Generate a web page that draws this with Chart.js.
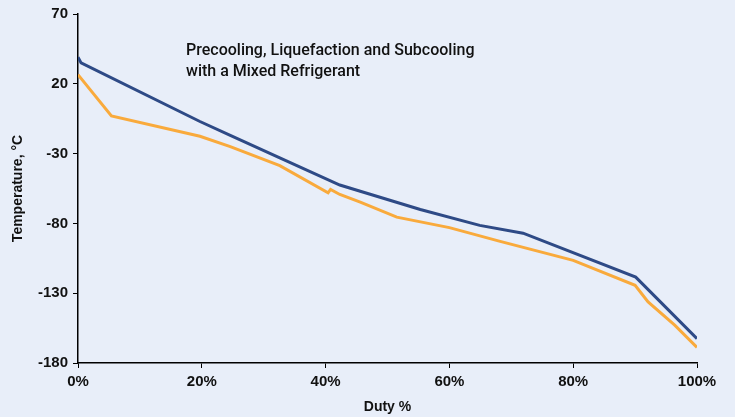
<!DOCTYPE html>
<html>
<head>
<meta charset="utf-8">
<script src="https://cdn.jsdelivr.net/npm/chart.js@4/dist/chart.umd.min.js"></script>
<style>
  html, body { margin: 0; padding: 0; background: #e8eef9; }
  #wrap { width: 735px; height: 417px; }
</style>
</head>
<body>
<div id="wrap"><canvas id="c" width="735" height="417"></canvas></div>
<script>
// Duty (%) and temperature (°C)
const hotDuty  = [0, 0.5, 19.7, 24.6, 32.6, 42.3, 45.6, 55.3, 64.9, 71.9, 90.1, 100];
const hotTemp  = [39, 35, -7, -17, -33, -52.5, -57, -70, -81.4, -87, -118.5, -162.5];
const coldDuty = [0, 5.4, 19.7, 24.6, 32.6, 40.4, 40.8, 42.3, 45.6, 51.5, 60, 68.2, 80, 90, 92.1, 96.4, 100];
const coldTemp = [26.5, -3, -17.6, -25, -38.6, -58.1, -55.7, -59.3, -64.8, -75.5, -83, -92.9, -106.5, -124.3, -136.2, -152.9, -168.8];
const yTicks = [70, 20, -30, -80, -130, -180];
const xTicks = [0, 20, 40, 60, 80, 100];
const chartTitle = ['Precooling, Liquefaction and Subcooling', 'with a Mixed Refrigerant'];
const xTitle = 'Duty %';
const yTitle = 'Temperature, \u00B0C';

const toPts = (xs, ys) => xs.map((x, i) => ({x: x, y: ys[i]}));

const FONT = "'Liberation Sans', Arial, sans-serif";
const TFONT = "Roboto, 'Liberation Sans', Arial, sans-serif";

const titlePlugin = {
  id: 'innerTitle',
  afterDraw(chart) {
    const {ctx, chartArea} = chart;
    ctx.save();
    ctx.fillStyle = '#111';
    ctx.font = '500 16px ' + TFONT;
    ctx.textBaseline = 'alphabetic';
    ctx.textAlign = 'left';
    chartTitle.forEach((t, i) => {
      ctx.fillText(t, chartArea.left + 108, chartArea.top + 41 + i * 21);
    });
    ctx.restore();
  }
};

new Chart(document.getElementById('c'), {
  type: 'line',
  data: {
    datasets: [
      { data: toPts(hotDuty, hotTemp), borderColor: '#2e4a86', borderWidth: 3, pointRadius: 0, tension: 0, fill: false },
      { data: toPts(coldDuty, coldTemp), borderColor: '#f9aa3c', borderWidth: 3, pointRadius: 0, tension: 0, fill: false }
    ]
  },
  options: {
    responsive: false,
    animation: false,
    events: [],
    layout: { padding: { left: 0, right: 38, top: 13, bottom: 0 } },
    plugins: { legend: { display: false }, tooltip: { enabled: false }, title: { display: false } },
    scales: {
      x: {
        type: 'linear',
        min: 0, max: 100,
        afterBuildTicks(scale) { scale.ticks = xTicks.map(v => ({value: v})); },
        afterFit(scale) { scale.height = 54; },
        border: { display: true, color: '#000', width: 1.5 },
        grid: { display: true, drawOnChartArea: false, drawTicks: true, tickLength: 5, color: '#000', lineWidth: 1 },
        ticks: { color: '#111', font: { family: FONT, size: 15, weight: 'bold' }, padding: 5, maxRotation: 0, callback: v => v + '%' },
        title: { display: true, text: xTitle, color: '#111', font: { family: FONT, size: 14, weight: 'bold' }, padding: { top: 0, bottom: 1 } }
      },
      y: {
        min: -180, max: 70,
        afterBuildTicks(scale) { scale.ticks = yTicks.map(v => ({value: v})); },
        afterFit(scale) { scale.width = 78; },
        border: { display: true, color: '#000', width: 1.5 },
        grid: { display: true, drawOnChartArea: false, drawTicks: true, tickLength: 5, color: '#000', lineWidth: 1 },
        ticks: { color: '#111', font: { family: FONT, size: 15, weight: 'bold' }, padding: 5 },
        title: { display: true, text: yTitle, color: '#111', font: { family: FONT, size: 14, weight: 'bold' }, padding: { top: 10, bottom: 0 } }
      }
    }
  },
  plugins: [titlePlugin]
});
</script>
</body>
</html>
